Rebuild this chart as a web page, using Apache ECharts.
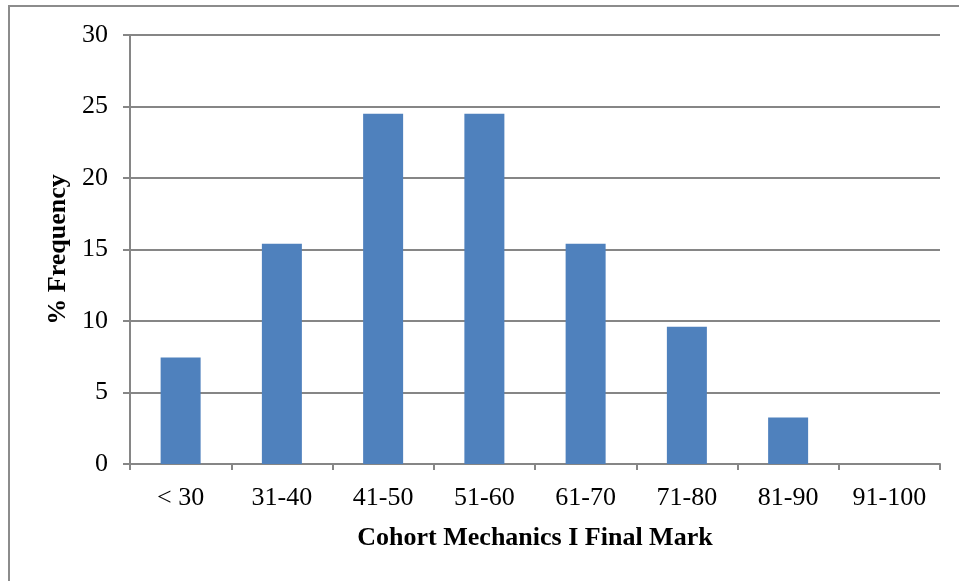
<!DOCTYPE html>
<html><head><meta charset="utf-8">
<script src="https://cdn.jsdelivr.net/npm/echarts@6/dist/echarts.min.js"></script>
<style>html,body{margin:0;padding:0;background:#fff;}#c{width:959px;height:581px;}</style>
</head><body><div id="c"></div>
<script>
const categories = ['< 30','31-40','41-50','51-60','61-70','71-80','81-90','91-100'];
const frequency = [7.45, 15.4, 24.5, 24.5, 15.4, 9.6, 3.25, 0];
const xTitle = 'Cohort Mechanics I Final Mark';
const yTitle = '% Frequency';

const font = '"Liberation Serif", "Times New Roman", serif';
const gray = '#868686';
const chart = echarts.init(document.getElementById('c'), null, {renderer:'canvas'});
chart.setOption({
  animation: false,
  backgroundColor: '#fff',
  graphic: [{
    type: 'rect', silent: true,
    shape: {x: 9, y: 6, width: 1100, height: 1100},
    style: {fill: 'none', stroke: '#8c8c8c', lineWidth: 2}
  }],
  grid: {left: 130, right: 19, top: 35, bottom: 117, containLabel: false},
  xAxis: {
    type: 'category', data: categories,
    name: xTitle, nameLocation: 'middle', nameGap: 61,
    nameTextStyle: {fontFamily: font, fontSize: 26, fontWeight: 'bold', color: '#000'},
    axisLine: {lineStyle: {color: gray, width: 2}},
    axisTick: {show: true, length: 6, lineStyle: {color: gray, width: 2}, alignWithLabel: false},
    axisLabel: {fontFamily: font, fontSize: 26, color: '#000', margin: 21}
  },
  yAxis: {
    type: 'value', min: 0, max: 30, interval: 5,
    name: yTitle, nameLocation: 'middle', nameGap: 57, nameRotate: 90,
    nameTextStyle: {fontFamily: font, fontSize: 26, fontWeight: 'bold', color: '#000'},
    axisLine: {show: true, lineStyle: {color: gray, width: 2}},
    axisTick: {show: true, length: 7, lineStyle: {color: gray, width: 2}},
    axisLabel: {fontFamily: font, fontSize: 26, color: '#000', margin: 22},
    splitLine: {show: true, lineStyle: {color: gray, width: 2}}
  },
  series: [{
    type: 'bar', data: frequency, barWidth: 40,
    itemStyle: {color: '#4F81BD'}
  }]
});
</script></body></html>
